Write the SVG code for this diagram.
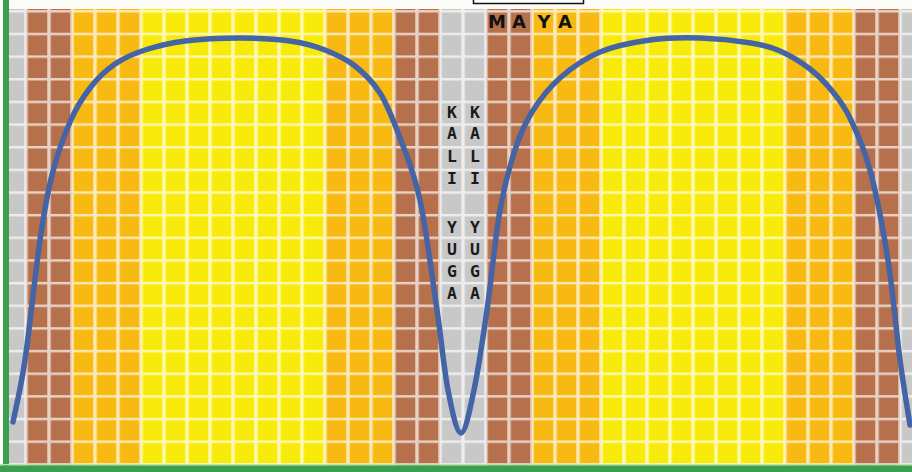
<svg xmlns="http://www.w3.org/2000/svg" width="912" height="472" viewBox="0 0 912 472">
  <style>
    .grey{fill:#c8c8c8}
    .brown{fill:#b6704b}
    .orange{fill:#f7b912}
    .yellow{fill:#f8eb0b}
    .lbl{font-family:"DejaVu Sans Mono","Liberation Mono",monospace;font-weight:bold;font-size:16.5px;fill:#1a1a1a;text-anchor:middle}
    .maya{font-family:"DejaVu Sans","Liberation Sans",sans-serif;font-weight:bold;font-size:18px;fill:#111;text-anchor:middle}
    .curve{fill:none;stroke:#4464a6;stroke-width:5.5;stroke-linecap:round;stroke-linejoin:round}
  </style>
  <defs>
    <pattern id="grid" x="24.25" y="10.1" width="23" height="22.65" patternUnits="userSpaceOnUse">
      <path d="M0 0h23v2.5H3.5V22.65H0z" fill="#ffffff" fill-opacity="0.68"/>
    </pattern>
  </defs>
  <rect x="0" y="0" width="912" height="472" fill="#fbfcf8"/>
  <g id="bands">
    <rect class="grey" x="9" y="9" width="17" height="457"/>
    <rect class="brown" x="26" y="9" width="46" height="457"/>
    <rect class="orange" x="72" y="9" width="69" height="457"/>
    <rect class="yellow" x="141" y="9" width="184" height="457"/>
    <rect class="orange" x="325" y="9" width="69" height="457"/>
    <rect class="brown" x="394" y="9" width="46" height="457"/>
    <rect class="grey" x="440" y="9" width="46" height="457"/>
    <rect class="brown" x="486" y="9" width="46" height="457"/>
    <rect class="orange" x="532" y="9" width="69" height="457"/>
    <rect class="yellow" x="601" y="9" width="184" height="457"/>
    <rect class="orange" x="785" y="9" width="69" height="457"/>
    <rect class="brown" x="854" y="9" width="46" height="457"/>
    <rect class="grey" x="900" y="9" width="12" height="457"/>
  </g>
  <rect id="gridlines" x="9" y="9" width="903" height="457" fill="url(#grid)"/>
  <g id="border">
    <rect x="3" y="0" width="6" height="472" fill="#3c9f4f"/>
    <rect x="0" y="464" width="912" height="1.5" fill="#b6e6b0"/>
    <rect x="0" y="465.5" width="912" height="6.5" fill="#3c9f4f"/>
  </g>
  <g id="maya-box">
    <rect x="473.5" y="-4" width="110" height="7.5" fill="#ffffff" stroke="#111" stroke-width="1.5"/>
  </g>
  <g id="curve">
    <path class="curve" d="M13,422 C15,411.7 20.5,390.3 25,360 C29.5,329.7 35.5,270.8 40,240 C44.5,209.2 47,194.7 52,175 C57,155.3 63.7,136.5 70,122 C76.3,107.5 82.5,97.7 90,88 C97.5,78.3 105.8,70.3 115,64 C124.2,57.7 133.3,53.8 145,50 C156.7,46.2 169.2,43 185,41 C200.8,39 222.5,38 240,38 C257.5,38 275.8,39 290,41 C304.2,43 314.2,45.8 325,50 C335.8,54.2 345.8,58.8 355,66 C364.2,73.2 372.5,81.5 380,93 C387.5,104.5 393.3,120.2 400,138 C406.7,155.8 413.8,171.3 420,200 C426.2,228.7 432.3,278.3 437,310 C441.7,341.7 444,369.5 448,390 C452,410.5 456.7,433 461,433 C465.3,433 469.7,410.5 474,390 C478.3,369.5 482.7,340 487,310 C491.3,280 495.3,236.7 500,210 C504.7,183.3 509.7,166.3 515,150 C520.3,133.7 524.5,124 532,112 C539.5,100 548.7,88 560,78 C571.3,68 585,58.3 600,52 C615,45.7 633.3,42.3 650,40 C666.7,37.7 683.2,37.5 700,38 C716.8,38.5 737.7,40.8 751,43 C764.3,45.2 770.2,46.7 780,51 C789.8,55.3 801.2,62.2 810,69 C818.8,75.8 826.3,83.8 833,92 C839.7,100.2 843.8,105 850,118 C856.2,131 863.7,146.3 870,170 C876.3,193.7 883,228.3 888,260 C893,291.7 896.3,332.5 900,360 C903.7,387.5 908.3,414.2 910,425"/>
  </g>
  <g id="maya-label">
    <text class="maya" x="497" y="28">M</text>
    <text class="maya" x="519" y="28">A</text>
    <text class="maya" x="544" y="28">Y</text>
    <text class="maya" x="565" y="28">A</text>
  </g>
  <g id="kali-yuga-left">
    <text class="lbl" x="452" y="118">K</text>
    <text class="lbl" x="452" y="139">A</text>
    <text class="lbl" x="452" y="162">L</text>
    <text class="lbl" x="452" y="184">I</text>
    <text class="lbl" x="452" y="233">Y</text>
    <text class="lbl" x="452" y="255">U</text>
    <text class="lbl" x="452" y="277">G</text>
    <text class="lbl" x="452" y="299">A</text>
  </g>
  <g id="kali-yuga-right">
    <text class="lbl" x="475" y="118">K</text>
    <text class="lbl" x="475" y="139">A</text>
    <text class="lbl" x="475" y="162">L</text>
    <text class="lbl" x="475" y="184">I</text>
    <text class="lbl" x="475" y="233">Y</text>
    <text class="lbl" x="475" y="255">U</text>
    <text class="lbl" x="475" y="277">G</text>
    <text class="lbl" x="475" y="299">A</text>
  </g>
</svg>
